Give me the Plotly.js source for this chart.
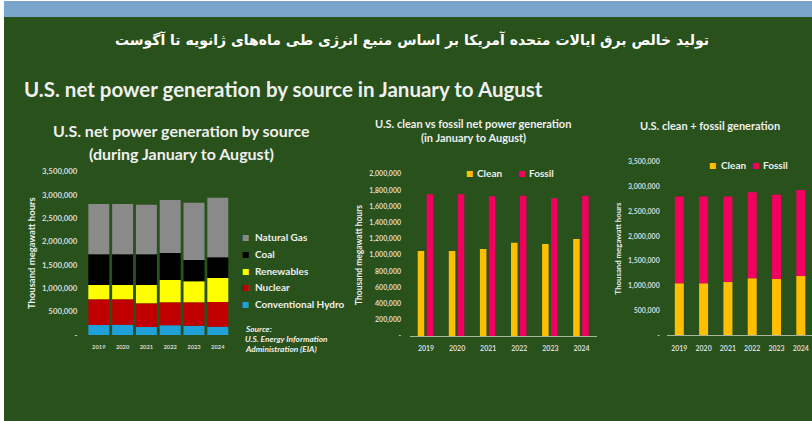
<!DOCTYPE html>
<html>
<head>
<meta charset="utf-8">
<script src="https://cdn.plot.ly/plotly-3.0.1.min.js"></script>
<style>
html,body{margin:0;padding:0;background:#ffffff;}
#chart{width:812px;height:421px;}
</style>
</head>
<body>
<div id="chart"></div>
<script>
// ---- data (thousand megawatt hours, January to August) ----
const years = ['2019', '2020', '2021', '2022', '2023', '2024'];

// left chart: net generation by source
const hydro      = [214000, 221000, 171000, 207000, 200000, 178000];
const nuclear    = [550000, 543000, 507000, 492000, 499000, 528000];
const renewables = [306000, 306000, 392000, 478000, 449000, 514000];
const coal       = [656000, 656000, 656000, 577000, 457000, 442000];
const naturalGas = [1077000, 1077000, 1062000, 1134000, 1226000, 1276000];

// middle + right charts: clean vs fossil
const clean  = [1049000, 1049000, 1074000, 1152000, 1136000, 1198000];
const fossil = [1749000, 1749000, 1724000, 1732000, 1700000, 1732000];

// tick labels
const tickVals35 = [0, 500000, 1000000, 1500000, 2000000, 2500000, 3000000, 3500000];
const tickText35 = ['-', '500,000', '1,000,000', '1,500,000', '2,000,000', '2,500,000', '3,000,000', '3,500,000'];
const tickVals20 = [0, 200000, 400000, 600000, 800000, 1000000, 1200000, 1400000, 1600000, 1800000, 2000000];
const tickText20 = ['-', '200,000', '400,000', '600,000', '800,000', '1,000,000', '1,200,000', '1,400,000', '1,600,000', '1,800,000', '2,000,000'];

// ---- helpers ----
const W = 812, H = 421;
const px = x => x / W;
const py = y => 1 - y / H;
const addArr = (a, b) => a.map((v, i) => v + b[i]);
const zeros = years.map(() => 0);

const baseNuclear = hydro.slice();
const baseRenew = addArr(baseNuclear, nuclear);
const baseCoal = addArr(baseRenew, renewables);
const baseGas = addArr(baseCoal, coal);

const FONT = 'Lato, "Open Sans", "DejaVu Sans", sans-serif';
const TXT = '#efefef';
const TICK = '#dadada';

const col = {
  gas: '#8a8a8a', coal: '#000000', ren: '#ffff00', nuc: '#c00000', hyd: '#1fa0d8',
  clean: '#ffbf00', fossil: '#f2005f'
};

function leftBar(name, vals, base, color) {
  return {type: 'bar', name: name, x: years, y: vals, base: base, width: 0.88,
    marker: {color: color, line: {width: 0}}, xaxis: 'x', yaxis: 'y',
    hovertemplate: name + ' %{x}: %{y:,}<extra></extra>'};
}

const traces = [
  leftBar('Conventional Hydro', hydro, zeros, col.hyd),
  leftBar('Nuclear', nuclear, baseNuclear, col.nuc),
  leftBar('Renewables', renewables, baseRenew, col.ren),
  leftBar('Coal', coal, baseCoal, col.coal),
  leftBar('Natural Gas', naturalGas, baseGas, col.gas),
  {type: 'bar', name: 'Clean', x: years, y: clean, width: 0.21, offset: -0.267,
    marker: {color: col.clean}, xaxis: 'x2', yaxis: 'y2'},
  {type: 'bar', name: 'Fossil', x: years, y: fossil, width: 0.21, offset: 0.02,
    marker: {color: col.fossil}, xaxis: 'x2', yaxis: 'y2'},
  {type: 'bar', name: 'Clean', x: years, y: clean, base: zeros, width: 0.37,
    marker: {color: col.clean}, xaxis: 'x3', yaxis: 'y3'},
  {type: 'bar', name: 'Fossil', x: years, y: fossil, base: clean, width: 0.37,
    marker: {color: col.fossil}, xaxis: 'x3', yaxis: 'y3'}
];

const tickAxisX = (size) => ({
  type: 'category', showgrid: false, zeroline: false, fixedrange: true,
  ticks: 'outside', ticklen: 6, tickcolor: 'rgba(0,0,0,0)',
  tickfont: {family: FONT, size: size, color: TICK, weight: 'bold'}
});
const tickAxisY = (size, vals, text, titleSize, standoff, ticklen) => ({
  showgrid: false, zeroline: false, fixedrange: true, showline: false,
  tickmode: 'array', tickvals: vals, ticktext: text,
  ticks: 'outside', ticklen: ticklen, tickcolor: 'rgba(0,0,0,0)',
  tickfont: {family: FONT, size: size, color: TICK, weight: 'bold'},
  title: {text: 'Thousand megawatt hours', standoff: standoff,
    font: {family: FONT, size: titleSize, color: TXT, weight: 'bold'}}
});

const ann = (text, x, y, size, extra) => Object.assign({
  text: text, xref: 'paper', yref: 'paper', x: px(x), y: py(y),
  xanchor: 'center', yanchor: 'middle', showarrow: false,
  font: {family: FONT, size: size, color: TXT, weight: 'bold'}
}, extra || {});

// legend entries (swatch glyph + label), drawn as text
const legendLeft = [
  {name: 'Natural Gas', color: col.gas},
  {name: 'Coal', color: col.coal},
  {name: 'Renewables', color: col.ren},
  {name: 'Nuclear', color: col.nuc},
  {name: 'Conventional Hydro', color: col.hyd}
];
const legendCF = [
  {name: 'Clean', color: col.clean},
  {name: 'Fossil', color: col.fossil}
];
function legendItem(item, sqX, textX, y, size) {
  return [
    ann('■', sqX, y + 0.5, size * 0.78, {font: {family: '"DejaVu Sans", sans-serif', size: size * 0.78, color: item.color}}),
    ann(item.name, textX, y, size, {xanchor: 'left'})
  ];
}
const legendAnns = [];
legendLeft.forEach((it, i) => legendAnns.push(...legendItem(it, 245.5, 252.5, 236.7 + i * 16.9, 10)));
legendAnns.push(...legendItem(legendCF[0], 469.2, 474.5, 172.7, 10));
legendAnns.push(...legendItem(legendCF[1], 521.3, 526.5, 172.7, 10));
legendAnns.push(...legendItem(legendCF[0], 712.5, 718.5, 165, 10));
legendAnns.push(...legendItem(legendCF[1], 755.2, 761.2, 165, 10));

const sourceLines = ['Source:', 'U.S. Energy Information', 'Administration (EIA)'];
const sourceAnns = sourceLines.map((t, i) => ann(t, 243, 329.3 + i * 10, 8.3,
  {xanchor: 'left', font: {family: FONT, size: 8.3, color: TXT, weight: 'bold', style: 'italic'}}));

const layout = {
  width: W, height: H,
  margin: {l: 0, r: 0, t: 0, b: 0, pad: 0},
  paper_bgcolor: '#ffffff', plot_bgcolor: 'rgba(0,0,0,0)',
  barmode: 'overlay',
  showlegend: false,
  title: {
    text: 'تولید خالص برق ایالات متحده آمریکا بر اساس منبع انرژی طی ماه‌های ژانویه تا آگوست',
    x: px(412), xanchor: 'center', y: py(40), yanchor: 'middle',
    font: {family: '"DejaVu Sans", "Noto Sans", sans-serif', size: 14, color: '#ffffff', weight: 'bold'}
  },
  shapes: [
    {type: 'rect', xref: 'paper', yref: 'paper', x0: px(4), x1: 1, y0: 0, y1: py(17),
      fillcolor: '#28511b', line: {width: 0}, layer: 'below'},
    {type: 'rect', xref: 'paper', yref: 'paper', x0: px(4), x1: 1, y0: py(17), y1: py(1),
      fillcolor: '#7aa6cc', line: {width: 0}, layer: 'below'}
  ],
  xaxis: Object.assign(tickAxisX(5.8), {domain: [px(86.9), px(229.7)], range: [-0.5, 5.5], anchor: 'y'}),
  yaxis: Object.assign(tickAxisY(7.8, tickVals35, tickText35, 9.5, 4, 7),
    {domain: [py(335), py(171.4)], range: [0, 3500000], anchor: 'x'}),
  xaxis2: Object.assign(tickAxisX(7), {domain: [px(410.45), px(597.05)], range: [-0.5, 5.5], anchor: 'y2',
    showline: true, linecolor: '#a7b59c', linewidth: 1}),
  yaxis2: Object.assign(tickAxisY(7, tickVals20, tickText20, 8.5, 5, 7),
    {domain: [py(336), py(174)], range: [0, 2000000], anchor: 'x2'}),
  xaxis3: Object.assign(tickAxisX(7), {domain: [px(667.15), 1], range: [-0.5, 5.46], anchor: 'y3',
    showline: true, linecolor: '#a7b59c', linewidth: 1}),
  yaxis3: Object.assign(tickAxisY(7, tickVals35, tickText35, 7.8, 5, 5),
    {domain: [py(335.3), py(161.7)], range: [0, 3500000], anchor: 'x3'}),
  annotations: [
    ann('U.S. net power generation by source in January to August', 22, 89, 20.5, {xanchor: 'left'}),
    ann('U.S. net power generation by source', 181, 131, 16),
    ann('(during January to August)', 181, 153, 16),
    ann('U.S. clean vs fossil net power generation', 473, 123.5, 11),
    ann('(in January to August)', 473, 137.5, 11),
    ann('U.S. clean + fossil generation', 710, 125, 11)
  ].concat(sourceAnns, legendAnns)
};

Plotly.newPlot('chart', traces, layout, {displayModeBar: false, responsive: false});
</script>
</body>
</html>
